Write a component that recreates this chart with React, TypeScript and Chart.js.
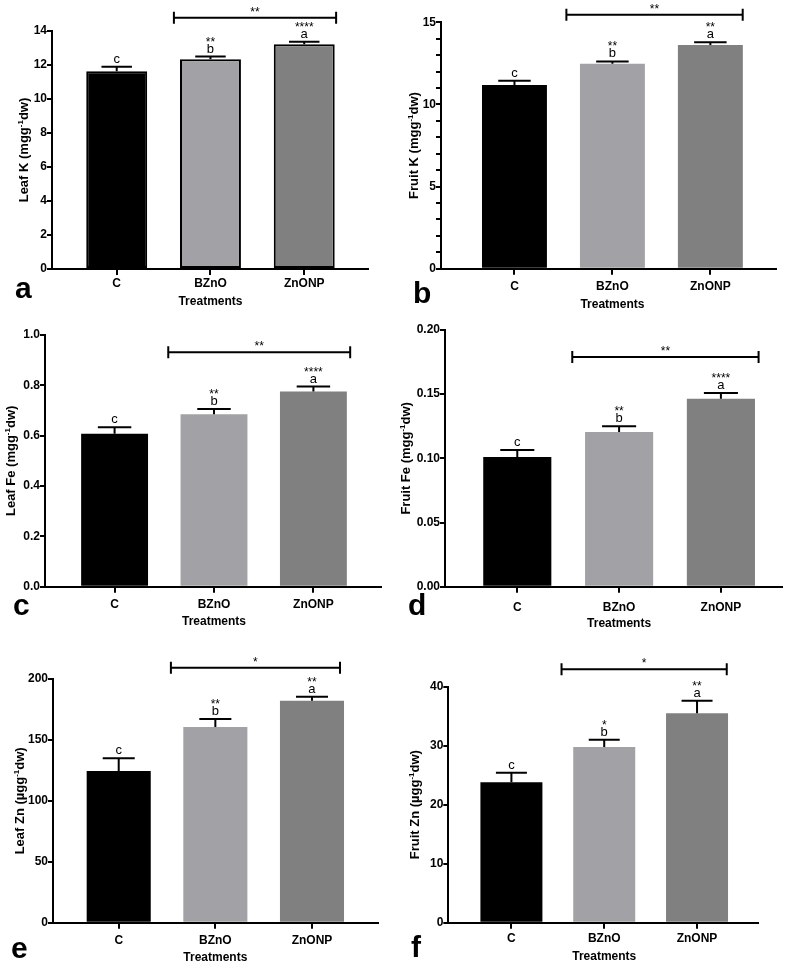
import React, { useEffect, useRef } from 'react';
import { Chart, registerables } from 'chart.js';

Chart.register(...registerables);

const FONT = '"Liberation Sans", Arial, Helvetica, sans-serif';

// ---------------- data ----------------
const treatments = ['C', 'BZnO', 'ZnONP'];
const barColors = ['#000000', '#a2a2a6', '#808080'];
const groupLetters = ['c', 'b', 'a'];

const leafK = [11.63, 12.34, 13.22];
const leafKErr = [0.27, 0.16, 0.15];
const leafKStars = ['', '**', '****'];

const fruitK = [11.18, 12.48, 13.62];
const fruitKErr = [0.26, 0.14, 0.16];
const fruitKStars = ['', '**', '**'];

const leafFe = [0.608, 0.685, 0.776];
const leafFeErr = [0.025, 0.021, 0.019];
const leafFeStars = ['', '**', '****'];

const fruitFe = [0.101, 0.1205, 0.1465];
const fruitFeErr = [0.0055, 0.0045, 0.0045];
const fruitFeStars = ['', '**', '****'];

const leafZn = [124.5, 160.6, 182.2];
const leafZnErr = [10.5, 6.6, 3.3];
const leafZnStars = ['', '**', '**'];

const fruitZn = [23.8, 29.8, 35.5];
const fruitZnErr = [1.6, 1.2, 2.1];
const fruitZnStars = ['', '*', '**'];

const bracketStars = ['**', '**', '**', '**', '*', '*'];
const bracketLevels = [14.78, 15.46, 0.931, 0.179, 209.3, 42.95];
const bracketFrom = [0.61, 0.53, 0.54, 0.54, 0.54, 0.54];
const bracketTo = [2.34, 2.33, 2.37, 2.37, 2.29, 2.32];

const yMax = [14, 15, 1.0, 0.2, 200, 40];
const yStep = [2, 1, 0.2, 0.05, 50, 10];
const yLabelEvery = [2, 5, 0.2, 0.05, 50, 10];
const yDecimals = [0, 0, 1, 2, 0, 0];
const yTitlePre = ['Leaf K (mgg', 'Fruit K (mgg', 'Leaf Fe (mgg', 'Fruit Fe (mgg', 'Leaf Zn (\u00b5gg', 'Fruit Zn (\u00b5gg'];
const yTitleSup = '-1';
const yTitleSuf = 'dw)';
const xTitle = 'Treatments';
const panelLetters = ['a', 'b', 'c', 'd', 'e', 'f'];

const seriesValues = [leafK, fruitK, leafFe, fruitFe, leafZn, fruitZn];
const seriesErrors = [leafKErr, fruitKErr, leafFeErr, fruitFeErr, leafZnErr, fruitZnErr];
const seriesStars = [leafKStars, fruitKStars, leafFeStars, fruitFeStars, leafZnStars, fruitZnStars];

// ---------------- layout ----------------
type Layout = {
  region: number[]; // left, top, width, height of canvas (page px)
  area: number[]; // chart area L, T, R, B (page px)
  xRange: number[];
  barPct: number;
  outlined: boolean;
  tickPad: number;
  titleOff: number;
  treatDy: number;
  letter: number[]; // page px
};

const layouts: Layout[] = [
  { region: [0, 0, 395, 310], area: [52, 31, 368, 269], xRange: [-0.69, 2.68], barPct: 0.65, outlined: true, tickPad: 1.5, titleOff: 24.5, treatDy: 32.7, letter: [15, 298] },
  { region: [395, 0, 395, 310], area: [441, 22.3, 776, 268.7], xRange: [-0.75, 2.67], barPct: 0.663, outlined: false, tickPad: 5, titleOff: 23, treatDy: 36, letter: [413, 303] },
  { region: [0, 310, 395, 320], area: [45, 335, 381, 586.7], xRange: [-0.7, 2.68], barPct: 0.673, outlined: false, tickPad: 4.5, titleOff: 30.5, treatDy: 35, letter: [13, 615] },
  { region: [395, 310, 395, 320], area: [445, 330, 782, 586.7], xRange: [-0.71, 2.6], barPct: 0.669, outlined: false, tickPad: 7.5, titleOff: 35.5, treatDy: 37, letter: [408, 615] },
  { region: [0, 630, 395, 333], area: [53, 679, 377.7, 922.7], xRange: [-0.68, 2.68], barPct: 0.663, outlined: false, tickPad: 5, titleOff: 29.5, treatDy: 35, letter: [11, 958] },
  { region: [395, 630, 395, 333], area: [448.3, 686.7, 758.3, 922.7], xRange: [-0.68, 2.66], barPct: 0.668, outlined: false, tickPad: 2.5, titleOff: 29.5, treatDy: 34, letter: [411, 957] },
];

const Y_AXIS_W = 40;
const X_AXIS_H = 30;

function makeAnnotPlugin(idx: number) {
  return {
    id: 'annot' + idx,
    afterDraw(chart: any) {
      const ctx: CanvasRenderingContext2D = chart.ctx;
      const xs = chart.scales.x;
      const ys = chart.scales.y;
      const meta = chart.getDatasetMeta(0);
      const values = seriesValues[idx];
      const errs = seriesErrors[idx];
      const stars = seriesStars[idx];
      const lay = layouts[idx];
      const [rx, ry] = lay.region;
      const area = chart.chartArea;
      ctx.save();
      ctx.strokeStyle = '#000';
      ctx.fillStyle = '#000';
      ctx.lineWidth = 2;
      ctx.lineCap = 'butt';
      values.forEach((v, i) => {
        const bar = meta.data[i];
        const cx = xs.getPixelForValue(i);
        const base = ys.getPixelForValue(v);
        const top = ys.getPixelForValue(v + errs[i]);
        const half = bar.width * 0.25;
        ctx.beginPath();
        ctx.moveTo(cx, base);
        ctx.lineTo(cx, top);
        ctx.moveTo(cx - half, top);
        ctx.lineTo(cx + half, top);
        ctx.stroke();
        ctx.textAlign = 'center';
        ctx.textBaseline = 'alphabetic';
        ctx.font = `13px ${FONT}`;
        const lb = top - 4;
        ctx.fillText(groupLetters[i], cx, lb);
        if (stars[i]) {
          ctx.font = `12px ${FONT}`;
          ctx.fillText(stars[i], cx, lb - 7);
        }
      });
      // significance bracket
      const by = ys.getPixelForValue(bracketLevels[idx]);
      const bx1 = xs.getPixelForValue(bracketFrom[idx]);
      const bx2 = xs.getPixelForValue(bracketTo[idx]);
      ctx.beginPath();
      ctx.moveTo(bx1, by);
      ctx.lineTo(bx2, by);
      ctx.moveTo(bx1, by - 6);
      ctx.lineTo(bx1, by + 6);
      ctx.moveTo(bx2, by - 6);
      ctx.lineTo(bx2, by + 6);
      ctx.stroke();
      ctx.font = `12px ${FONT}`;
      ctx.textAlign = 'center';
      ctx.fillText(bracketStars[idx], (bx1 + bx2) / 2, by - 2);

      // x title
      ctx.font = `bold 12px ${FONT}`;
      ctx.textBaseline = 'middle';
      ctx.fillText(xTitle, xs.getPixelForValue(1), area.bottom + lay.treatDy);

      // panel letter
      ctx.font = `bold 30px ${FONT}`;
      ctx.textAlign = 'left';
      ctx.textBaseline = 'alphabetic';
      ctx.fillText(panelLetters[idx], lay.letter[0] - rx, lay.letter[1] - ry);

      // y title with superscript
      const tx = area.left - lay.titleOff;
      const ty = (area.top + area.bottom) / 2;
      ctx.translate(tx, ty);
      ctx.rotate(-Math.PI / 2);
      const f1 = `bold 13px ${FONT}`;
      const f2 = `bold 8px ${FONT}`;
      ctx.font = f1;
      const w1 = ctx.measureText(yTitlePre[idx]).width;
      const w3 = ctx.measureText(yTitleSuf).width;
      ctx.font = f2;
      const w2 = ctx.measureText(yTitleSup).width;
      let sx = -(w1 + w2 + w3) / 2;
      ctx.textAlign = 'left';
      ctx.font = f1;
      ctx.fillText(yTitlePre[idx], sx, 0);
      sx += w1;
      ctx.font = f2;
      ctx.fillText(yTitleSup, sx, -5);
      sx += w2;
      ctx.font = f1;
      ctx.fillText(yTitleSuf, sx, 0);
      ctx.restore();
    },
  };
}

function Panel({ idx }: { idx: number }) {
  const ref = useRef<HTMLCanvasElement>(null);
  const lay = layouts[idx];
  const [rx, ry, rw, rh] = lay.region;
  useEffect(() => {
    const [L, T, R, B] = lay.area;
    const values = seriesValues[idx];
    const tickFont = { family: FONT, size: 12, weight: 'bold' as const };
    const gridBase = {
      display: true,
      drawOnChartArea: false,
      drawTicks: true,
      lineWidth: 2,
      color: '#000',
      tickColor: '#000',
      tickWidth: 2,
    };
    const chart = new Chart(ref.current as HTMLCanvasElement, {
      type: 'bar',
      data: {
        datasets: [
          {
            data: values.map((v, i) => ({ x: i, y: v })),
            backgroundColor: barColors,
            borderColor: lay.outlined ? '#000000' : barColors,
            borderWidth: lay.outlined ? 2 : 0,
            borderSkipped: false,
            barPercentage: lay.barPct,
            categoryPercentage: 1,
          } as any,
        ],
      },
      options: {
        responsive: false,
        animation: false,
        events: [],
        layout: {
          padding: {
            left: L - rx - Y_AXIS_W,
            top: T - ry,
            right: rx + rw - R,
            bottom: ry + rh - B - X_AXIS_H,
          },
        },
        plugins: {
          legend: { display: false },
          tooltip: { enabled: false },
          title: { display: false },
        },
        scales: {
          x: {
            type: 'linear',
            min: lay.xRange[0],
            max: lay.xRange[1],
            offset: false,
            clip: false,
            grid: { ...gridBase, tickLength: 6, offset: false },
            border: { display: true, color: '#000', width: 2 },
            ticks: {
              autoSkip: false,
              maxRotation: 0,
              padding: lay.tickPad,
              color: '#000',
              font: tickFont,
              callback: (v: any) => treatments[v] ?? '',
            },
            afterBuildTicks: (s: any) => {
              s.ticks = treatments.map((_, i) => ({ value: i }));
            },
            afterFit: (s: any) => {
              s.height = X_AXIS_H;
            },
          },
          y: {
            type: 'linear',
            min: 0,
            max: yMax[idx],
            clip: false,
            grid: { ...gridBase, tickLength: 5 },
            border: { display: true, color: '#000', width: 2 },
            ticks: {
              stepSize: yStep[idx],
              autoSkip: false,
              padding: 0,
              color: '#000',
              font: tickFont,
              callback: (v: any) => {
                const n = Number(v);
                const r = n / yLabelEvery[idx];
                if (Math.abs(r - Math.round(r)) > 1e-6) return '';
                return n.toFixed(yDecimals[idx]);
              },
            },
            afterFit: (s: any) => {
              s.width = Y_AXIS_W;
            },
          },
        },
      } as any,
      plugins: [makeAnnotPlugin(idx)],
    });
    return () => chart.destroy();
  }, [idx]);
  return (
    <canvas
      ref={ref}
      width={rw}
      height={rh}
      style={{ position: 'absolute', left: rx, top: ry, width: rw, height: rh }}
    />
  );
}

export default function App() {
  return (
    <div style={{ position: 'absolute', left: 0, top: 0, width: 790, height: 963, background: '#fff', overflow: 'hidden' }}>
      {layouts.map((_, i) => (
        <Panel key={i} idx={i} />
      ))}
    </div>
  );
}
